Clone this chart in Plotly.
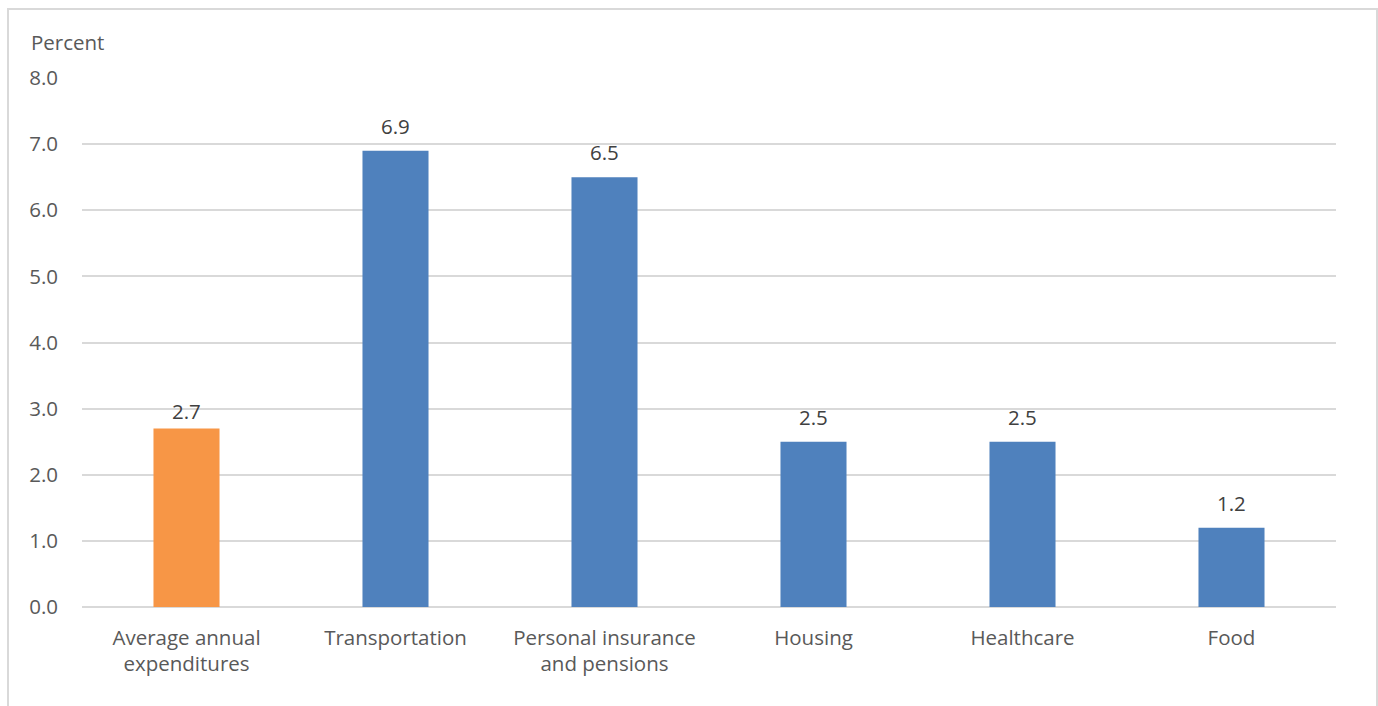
import plotly.graph_objects as go

# Spending categories and percent change values
categories = ["Average annual<br>expenditures", "Transportation",
              "Personal insurance<br>and pensions", "Housing", "Healthcare", "Food"]
values = [2.7, 6.9, 6.5, 2.5, 2.5, 1.2]
bar_colors = ["#F79646", "#4F81BD", "#4F81BD", "#4F81BD", "#4F81BD", "#4F81BD"]
label_lift = [1, 9, 9, 9, 9, 9]
tick_vals = [0, 1, 2, 3, 4, 5, 6, 7, 8]
tick_text = ["0.0", "1.0", "2.0", "3.0", "4.0", "5.0", "6.0", "7.0", "8.0"]

W, H = 1378, 706
ml, mr, mt, mb = 82, 42, 78, 99
pw, ph = W - ml - mr, H - mt - mb
FS = 20.5

fig = go.Figure(go.Bar(
    x=categories, y=values,
    marker=dict(color=bar_colors, line=dict(width=0)),
    width=0.316,
    cliponaxis=False,
))

# value labels above each bar
for c, v, lift in zip(categories, values, label_lift):
    fig.add_annotation(x=c, y=v, text=f"{v:.1f}", showarrow=False,
                       xanchor="center", yanchor="bottom", yshift=lift,
                       font=dict(family="Open Sans", size=FS, color="#404040"))

# outer chart frame
def px_x(p):
    return (p - ml) / pw

def px_y(p):
    return (H - mb - p) / ph

fig.add_shape(type="rect", xref="paper", yref="paper",
              x0=px_x(8), x1=px_x(1377), y0=px_y(760), y1=px_y(9),
              line=dict(color="#D9D9D9", width=2), fillcolor="rgba(0,0,0,0)",
              layer="below")

fig.add_annotation(text="Percent", xref="paper", yref="paper",
                   x=px_x(29), y=px_y(42), xanchor="left", yanchor="middle",
                   showarrow=False,
                   font=dict(family="Open Sans", size=FS, color="#595959"))

fig.update_layout(
    width=W, height=H,
    margin=dict(l=ml, r=mr, t=mt, b=mb, autoexpand=False),
    paper_bgcolor="white", plot_bgcolor="white",
    showlegend=False,
    font=dict(family="Open Sans", size=FS, color="#595959"),
    xaxis=dict(showgrid=False, showline=False, ticks="", tickfont=dict(size=FS),
               ticklabelstandoff=16),
    yaxis=dict(range=[0, 8], tickvals=tick_vals, ticktext=tick_text,
               showgrid=True, gridcolor="#D9D9D9", gridwidth=2,
               zeroline=True, zerolinecolor="#D9D9D9", zerolinewidth=2,
               showline=False, ticks="", ticklabelstandoff=23,
               tickfont=dict(size=FS)),
    bargap=0.68,
)

fig.write_html("out.html")
